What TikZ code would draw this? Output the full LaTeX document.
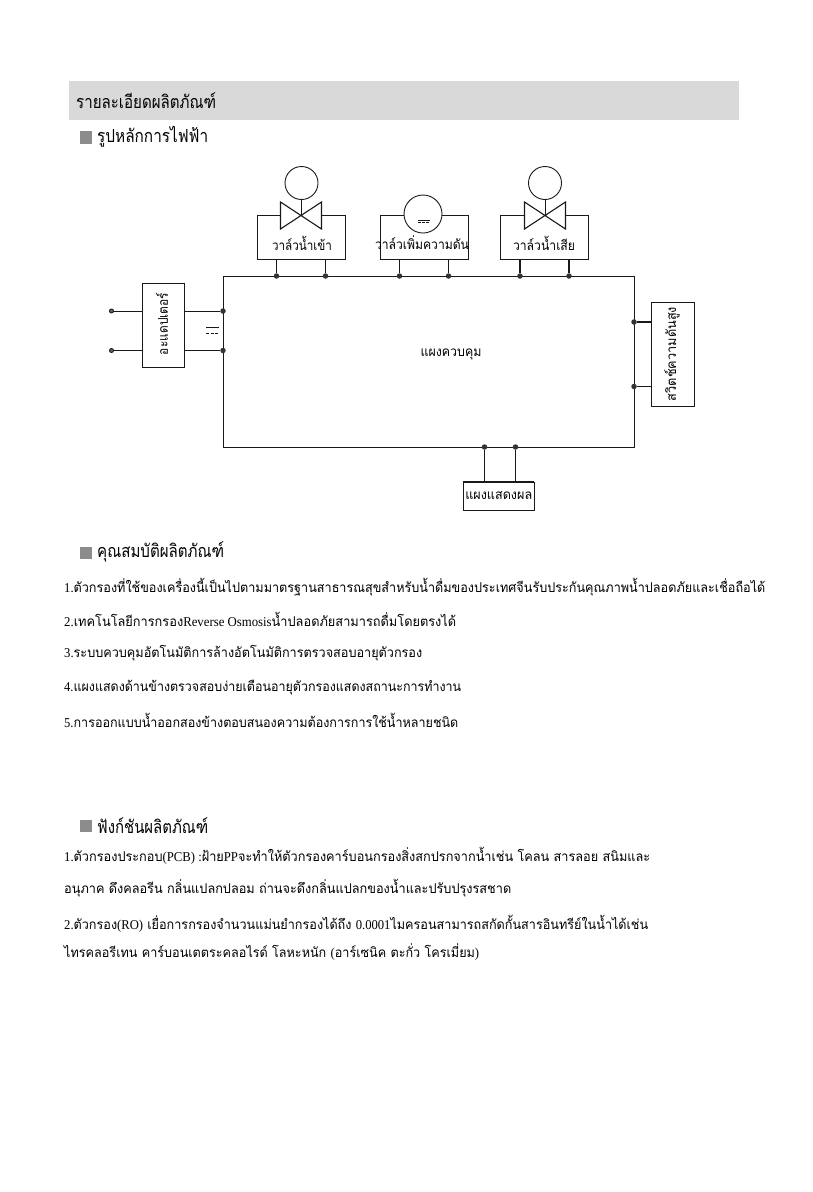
\documentclass[tikz,border=0pt]{standalone}
\usepackage{fontspec}
\setmainfont{Liberation Serif}
\newfontfamily\thaifont[Script=Thai]{Loma}
\usetikzlibrary{positioning}
\newcommand{\lat}[1]{{\rmfamily #1}}
\newcommand{\fitline}[2]{\resizebox{#1pt}{\height}{#2}}

\begin{document}
\begin{tikzpicture}[
  x=1pt, y=-1pt,
  tbox/.style={draw=black!90, line width=0.9pt, fill=white, inner sep=0pt},
  wire/.style={draw=black!90, line width=0.9pt},
  heavy/.style={draw=black!90, line width=1.6pt},
  dot/.style={circle, fill=black!80, inner sep=0pt, minimum size=5.5pt},
  term/.style={circle, draw=black!90, line width=0.9pt, fill=black!60, inner sep=0pt, minimum size=4pt},
  lamp/.style={circle, draw=black!90, line width=0.9pt, fill=white, inner sep=0pt},
  valve/.style={draw=black!90, line width=1.1pt, fill=white, line join=miter},
  dclabel/.style={font=\thaifont\fontsize{13.5}{15}\selectfont, text=black, inner sep=0pt},
  heading/.style={anchor=west, inner sep=0pt, font=\thaifont\fontsize{18}{20}\selectfont, text=black},
  bodyline/.style={anchor=west, inner sep=0pt, font=\thaifont\fontsize{13.5}{16}\selectfont, text=black},
  bullet/.style={fill=black!45, inner sep=0pt, minimum size=12.5pt}
]
  \useasboundingbox (0,0) rectangle (812,1192);

  % Title band
  \node[fill=black!15, inner sep=0pt, minimum width=670pt, minimum height=39pt] (band) at (404,100.5) {};
  \node[heading] (title) at (76,101) {\fitline{140}{รายละเอียดผลิตภัณฑ์}};
  \node[bullet] (bulleta) at (86,137.5) {};
  \node[heading] (heada) at (97,137) {\fitline{111}{รูปหลักการไฟฟ้า}};

  % Control panel
  \node[tbox, minimum width=411pt, minimum height=171pt] (panel) at (428.5,361.5) {};
  \draw[heavy] (panel.north east) -- (panel.south east);
  \node[dclabel] (panellabel) at (451,354) {\fitline{61}{แผงควบคุม}};

  % Top boxes
  \node[tbox, minimum width=88pt, minimum height=44pt] (inbox) at (301,237) {};
  \node[tbox, minimum width=88pt, minimum height=44pt] (boostbox) at (424,237) {};
  \node[tbox, minimum width=88pt, minimum height=44pt] (wastebox) at (544,237) {};
  \draw[heavy] (inbox.south west) -- (inbox.south east);
  \draw[heavy] (boostbox.south west) -- (boostbox.south east);
  \draw[heavy] (wastebox.south west) -- (wastebox.south east);

  % Valves and motor
  \draw[valve] (280.5,202) -- (321.5,229) -- (321.5,202) -- (280.5,229) -- cycle;
  \draw[valve] (524.5,202) -- (565.5,229) -- (565.5,202) -- (524.5,229) -- cycle;
  \node[lamp, minimum size=33pt] (inlamp) at (301.5,183) {};
  \node[lamp, minimum size=33pt] (wastelamp) at (545,183) {};
  \coordinate (incross) at (301.5,215.5);
  \coordinate (wastecross) at (545,215.5);
  \draw[wire] (inlamp) -- (incross);
  \draw[wire] (wastelamp) -- (wastecross);
  \node[lamp, minimum size=38pt] (boostlamp) at (423,214) {};
  \coordinate (motora) at (418,220.5);
  \coordinate (motorb) at (430,220.5);
  \coordinate (motorc) at (418,222.8);
  \coordinate (motord) at (430,222.8);
  \draw[wire] (motora) -- (motorb);
  \draw[wire, dash pattern=on 3pt off 1pt] (motorc) -- (motord);

  \node[dclabel] (inlabel) at (302,243) {\fitline{60}{วาล์วน้ำเข้า}};
  \node[dclabel] (boostlabel) at (422,243) {\fitline{94}{วาล์วเพิ่มความดัน}};
  \node[dclabel] (wastelabel) at (544,243) {\fitline{62}{วาล์วน้ำเสีย}};

  % Side and bottom boxes
  \node[tbox, minimum width=42pt, minimum height=84pt] (adapter) at (163,325) {};
  \node[dclabel, rotate=90] (adapterlabel) at (162,324) {\fitline{62}{อะแดปเตอร์}};
  \node[tbox, minimum width=43.5pt, minimum height=104pt] (pswitch) at (672.75,354) {};
  \node[dclabel, rotate=90] (pswitchlabel) at (672,354) {\fitline{94}{สวิตช์ความดันสูง}};
  \node[tbox, minimum width=70.5pt, minimum height=28.5pt] (display) at (498.75,496.25) {};
  \draw[heavy] (display.north west) -- (display.north east);
  \node[dclabel] (displaylabel) at (498.75,496) {\fitline{67}{แผงแสดงผล}};

  % Junction dots
  \node[dot] (ja) at (276.5,276) {};
  \node[dot] (jb) at (325.5,276) {};
  \node[dot] (jc) at (399.5,276) {};
  \node[dot] (jd) at (448.5,276) {};
  \node[dot] (je) at (520,276) {};
  \node[dot] (jf) at (569,276) {};
  \node[dot] (jg) at (634,322) {};
  \node[dot] (jh) at (634,386.5) {};
  \node[dot] (ji) at (484.5,447) {};
  \node[dot] (jj) at (515.5,447) {};
  \node[dot] (jk) at (223,311) {};
  \node[dot] (jl) at (223,350.5) {};
  \node[term] (ta) at (111.5,311) {};
  \node[term] (tb) at (111.5,350.5) {};

  % Wiring
  \draw[wire] (inbox.south -| ja) -- (ja);
  \draw[wire] (inbox.south -| jb) -- (jb);
  \draw[wire] (boostbox.south -| jc) -- (jc);
  \draw[wire] (boostbox.south -| jd) -- (jd);
  \draw[heavy] (wastebox.south -| je) -- (je);
  \draw[heavy] (wastebox.south -| jf) -- (jf);
  \draw[heavy] (jg) -- (pswitch.west |- jg);
  \draw[wire] (jh) -- (pswitch.west |- jh);
  \draw[wire] (ji) -- (display.north -| ji);
  \draw[wire] (jj) -- (display.north -| jj);
  \draw[wire] (ta) -- (adapter.west |- ta);
  \draw[wire] (tb) -- (adapter.west |- tb);
  \draw[wire] (adapter.east |- jk) -- (jk);
  \draw[wire] (adapter.east |- jl) -- (jl);

  % DC mark
  \coordinate (dca) at (206,327);
  \coordinate (dcb) at (219,327);
  \coordinate (dcc) at (206,333);
  \coordinate (dcd) at (219,333);
  \draw[wire] (dca) -- (dcb);
  \draw[wire, dash pattern=on 3pt off 1.5pt] (dcc) -- (dcd);

  % Product features
  \node[bullet] (bulletb) at (86,553) {};
  \node[heading] (headb) at (97,552) {\fitline{127}{คุณสมบัติผลิตภัณฑ์}};
  \node[bodyline] (fa) at (64,587) {\fitline{701}{\lat{1.}ตัวกรองที่ใช้ของเครื่องนี้เป็นไปตามมาตรฐานสาธารณสุขสำหรับน้ำดื่มของประเทศจีนรับประกันคุณภาพน้ำปลอดภัยและเชื่อถือได้}};
  \node[bodyline] (fb) at (64,619) {\fitline{392}{\lat{2.}เทคโนโลยีการกรอง\lat{Reverse Osmosis}น้ำปลอดภัยสามารถดื่มโดยตรงได้}};
  \node[bodyline] (fc) at (64,653) {\fitline{358}{\lat{3.}ระบบควบคุมอัตโนมัติการล้างอัตโนมัติการตรวจสอบอายุตัวกรอง}};
  \node[bodyline] (fd) at (64,688) {\fitline{397}{\lat{4.}แผงแสดงด้านข้างตรวจสอบง่ายเตือนอายุตัวกรองแสดงสถานะการทำงาน}};
  \node[bodyline] (fe) at (64,720) {\fitline{394}{\lat{5.}การออกแบบน้ำออกสองข้างตอบสนองความต้องการการใช้น้ำหลายชนิด}};

  % Product functions
  \node[bullet] (bulletc) at (86,826) {};
  \node[heading] (headc) at (97,826) {\fitline{111}{ฟังก์ชันผลิตภัณฑ์}};
  \node[bodyline] (ga) at (64,856) {\fitline{586}{\lat{1.}ตัวกรองประกอบ\lat{(PCB) :}ฝ้าย\lat{PP}จะทำให้ตัวกรองคาร์บอนกรองสิ่งสกปรกจากน้ำเช่น โคลน สารลอย สนิมและ}};
  \node[bodyline] (gb) at (64,888) {\fitline{447}{อนุภาค ดึงคลอรีน กลิ่นแปลกปลอม ถ่านจะดึงกลิ่นแปลกของน้ำและปรับปรุงรสชาด}};
  \node[bodyline] (gc) at (64,924) {\fitline{584}{\lat{2.}ตัวกรอง\lat{(RO)} เยื่อการกรองจำนวนแม่นยำกรองได้ถึง \lat{0.0001}ไมครอนสามารถสกัดกั้นสารอินทรีย์ในน้ำได้เช่น}};
  \node[bodyline] (gd) at (64,952) {\fitline{415}{ไทรคลอรีเทน คาร์บอนเตตระคลอไรด์ โลหะหนัก \lat{(}อาร์เซนิค ตะกั่ว โครเมี่ยม\lat{)}}};
\end{tikzpicture}
\end{document}
